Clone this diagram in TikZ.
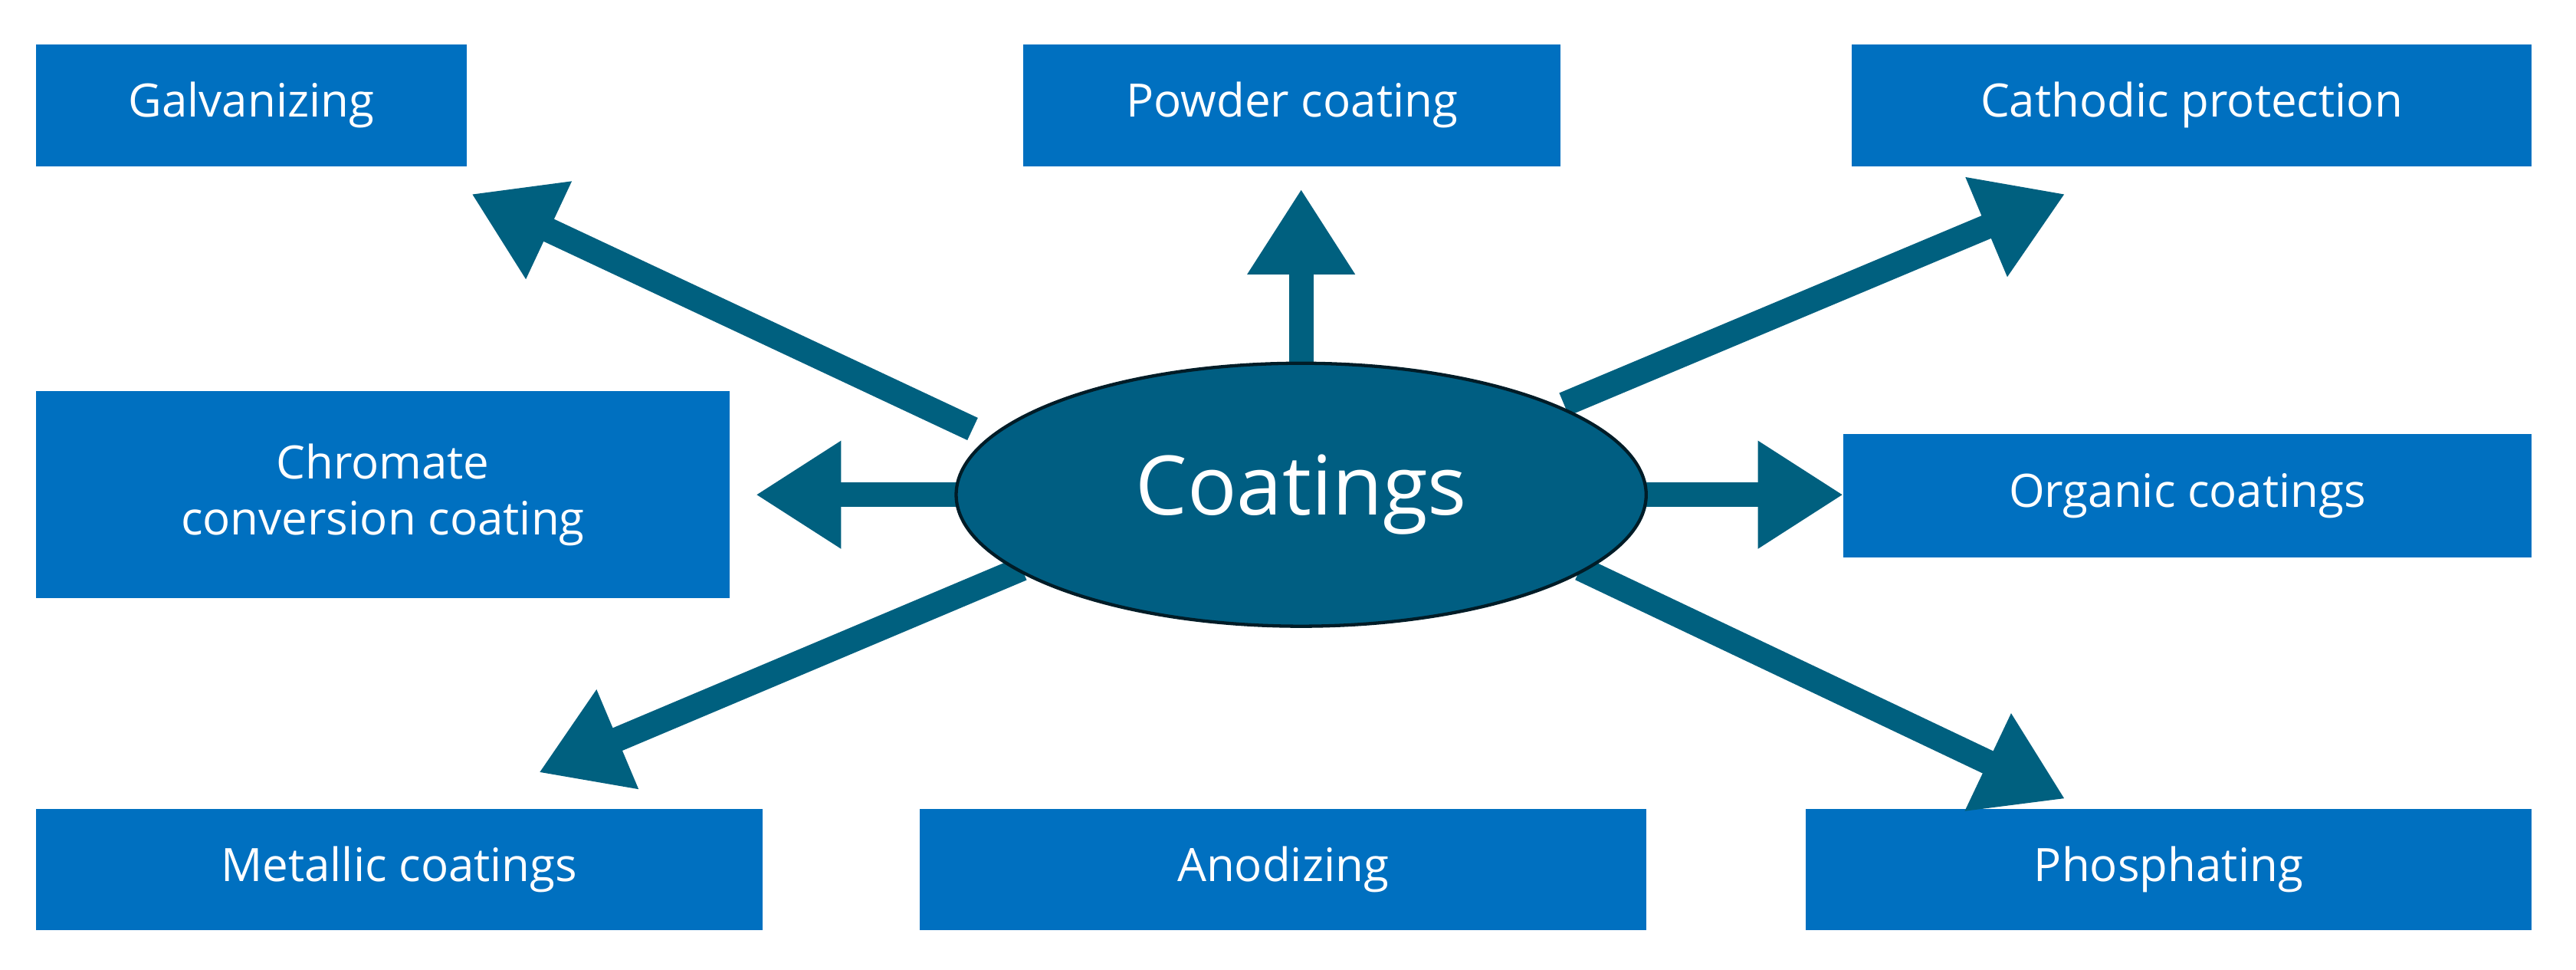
\documentclass[tikz,border=0pt]{standalone}
\usepackage{fontspec}
\setmainfont{Open Sans}
\usetikzlibrary{arrows.meta,shapes.geometric}
\definecolor{boxc}{HTML}{0070C0}
\definecolor{arrc}{HTML}{00607F}
\definecolor{ellc}{HTML}{005E82}
\begin{document}
\begin{tikzpicture}[x=1pt,y=-1pt,
 bx/.style={fill=boxc,text=white,font=\fontsize{28}{34}\selectfont,align=center,inner sep=0},
 arr/.style={draw=arrc,line width=15pt,-{Triangle[width=62pt,length=52pt]}},
 ell/.style={draw=black!70!ellc,line width=2pt,fill=ellc,ellipse,minimum width=420,minimum height=160,inner sep=0}]
\useasboundingbox (0,0) rectangle (1568,590);
\path[fill=white] (0,0) rectangle (1568,590);
\node[bx,minimum width=262,minimum height=74] (gal) at (153,64) {Galvanizing};
\node[bx,minimum width=327,minimum height=74] (pow) at (786.5,64) {Powder coating};
\node[bx,minimum width=414,minimum height=74] (cat) at (1334,64) {Cathodic protection};
\node[bx,minimum width=422,minimum height=126] (chr) at (233,301) {Chromate\\conversion coating};
\node[bx,minimum width=419,minimum height=75] (org) at (1331.5,301.5) {Organic coatings};
\node[bx,minimum width=442,minimum height=74] (met) at (243,529) {Metallic coatings};
\node[bx,minimum width=442,minimum height=74] (ano) at (781,529) {Anodizing};
\node[bx,minimum width=442,minimum height=74] (pho) at (1320,529) {Phosphating};
\coordinate (tg) at (287,118); \coordinate (tp) at (792,115);
\coordinate (tc) at (1257,118); \coordinate (tch) at (460,301);
\coordinate (to) at (1122,301); \coordinate (tm) at (328,470);
\coordinate (tph) at (1257,486);
\coordinate (c) at (792,301);
\draw[arr] ([shift={(-200,-40)}]c) -- (tg);
\draw[arr] ([shift={(0,-70)}]c) -- (tp);
\draw[arr] ([shift={(160,-55)}]c) -- (tc);
\draw[arr] ([shift={(-200,0)}]c) -- (tch);
\draw[arr] ([shift={(200,0)}]c) -- (to);
\draw[arr] ([shift={(-170,45)}]c) -- (tm);
\draw[arr] ([shift={(170,45)}]c) -- (tph);
\node[ell,text=white,font=\fontsize{50}{60}\selectfont] (ce) at (c) {Coatings};
\end{tikzpicture}
\end{document}
